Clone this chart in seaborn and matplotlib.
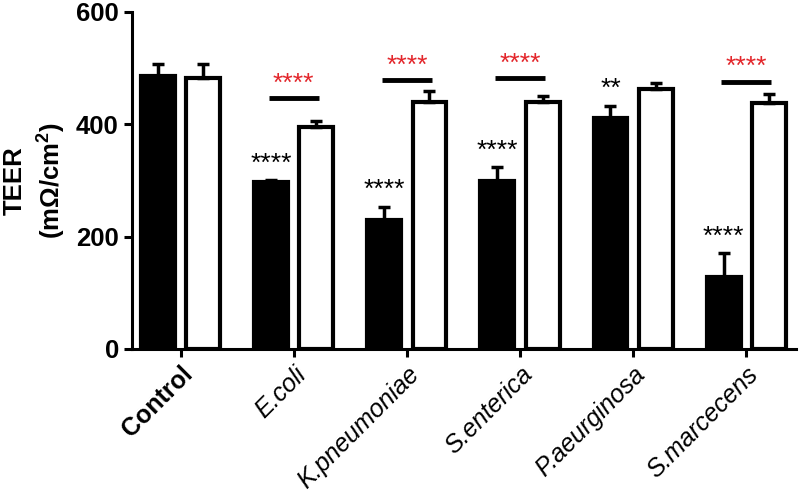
import numpy as np
import pandas as pd
import matplotlib
matplotlib.use('Agg')
import matplotlib.pyplot as plt
import seaborn as sns

# values
groups = ['Control', 'E.coli', 'K.pneumoniae', 'S.enterica', 'P.aeurginosa', 'S.marcecens']
conditions = ['infected', 'treated']
infected_mean = [486, 297, 230, 299, 411, 128]
infected_err = [21, 3, 23, 25, 22, 43]
treated_mean = [482, 395, 440, 440, 463, 438]
treated_err = [25, 11, 19, 10, 10, 16]

# significance marks above the black bars
black_stars = ['', '****', '****', '****', '**', '****']
# red marks over the pairs, with the bar height for each
red_stars = ['', '****', '****', '****', '', '****']
bracket_y = [None, 447, 479, 482, None, 476]

sns.set_theme(style='ticks')
plt.rcParams['font.family'] = ['Liberation Sans', 'DejaVu Sans']
plt.rcParams['text.color'] = 'black'
plt.rcParams['axes.labelcolor'] = 'black'
plt.rcParams['xtick.color'] = 'black'
plt.rcParams['ytick.color'] = 'black'
plt.rcParams['axes.edgecolor'] = 'black'
plt.rcParams['mathtext.fontset'] = 'custom'
plt.rcParams['mathtext.rm'] = 'Liberation Sans:bold'
plt.rcParams['mathtext.bf'] = 'Liberation Sans:bold'

df = pd.DataFrame({
    'group': groups * 2,
    'condition': [conditions[0]] * len(groups) + [conditions[1]] * len(groups),
    'TEER': infected_mean + treated_mean,
})

fig, ax = plt.subplots(figsize=(8, 4.95), dpi=100)
fig.subplots_adjust(left=0.165, right=0.995, bottom=0.295, top=0.976)

sns.barplot(data=df, x='group', y='TEER', hue='condition', order=groups,
            hue_order=conditions, palette={'infected': 'black', 'treated': 'white'},
            edgecolor='black', linewidth=3, width=0.8, gap=0.25,
            errorbar=None, legend=False, ax=ax)

# one-sided error bars on the bar centres
centres = {}
for cond, cont, means, errs in zip(conditions, ax.containers,
                                   [infected_mean, treated_mean],
                                   [infected_err, treated_err]):
    xs = [b.get_x() + b.get_width() / 2 for b in cont]
    centres[cond] = xs
    ax.errorbar(xs, means, yerr=[np.zeros(len(errs)), errs], fmt='none',
                ecolor='black', elinewidth=2.5, capsize=4, capthick=2.5, zorder=1)

# stars over the black bars
for x, m, e, s in zip(centres['infected'], infected_mean, infected_err, black_stars):
    if s:
        ax.text(x, m + e + 8, s, ha='center', va='bottom', fontsize=19, color='black')

# red brackets between paired bars
for i, (s, y) in enumerate(zip(red_stars, bracket_y)):
    if s:
        x0, x1 = centres['infected'][i], centres['treated'][i]
        ax.plot([x0 - 0.02, x1 + 0.02], [y, y], color='black', lw=3.5, solid_capstyle='butt')
        ax.text((x0 + x1) / 2, y + 4, s, ha='center', va='bottom', fontsize=19, color='#e3262b')

ax.set_ylim(0, 600)
ax.set_yticks([0, 200, 400, 600])
ax.set_xlim(-0.43, 5.44)
ax.set_xlabel('')
ax.set_ylabel('TEER\n(m$\\Omega$/cm$^{\\mathbf{2}}$)', fontsize=18.5, fontweight='bold',
              linespacing=1.3)
ax.yaxis.set_label_coords(-0.098, 0.5)

sns.despine(ax=ax)
for side in ['left', 'bottom']:
    ax.spines[side].set_linewidth(2.2)
ax.tick_params(axis='both', width=2.2, length=6, direction='out')
ax.tick_params(axis='y', labelsize=18.5)
ax.tick_params(axis='x', labelsize=18)
for lab in ax.get_yticklabels():
    lab.set_fontweight('bold')

ax.set_xticks(range(len(groups)))
ax.set_xticklabels(groups, rotation=45, ha='right', rotation_mode='anchor')
for lab in ax.get_xticklabels():
    if lab.get_text() == 'Control':
        lab.set_fontweight('bold')
    else:
        lab.set_fontstyle('italic')

fig.savefig('out.png', dpi=100)
